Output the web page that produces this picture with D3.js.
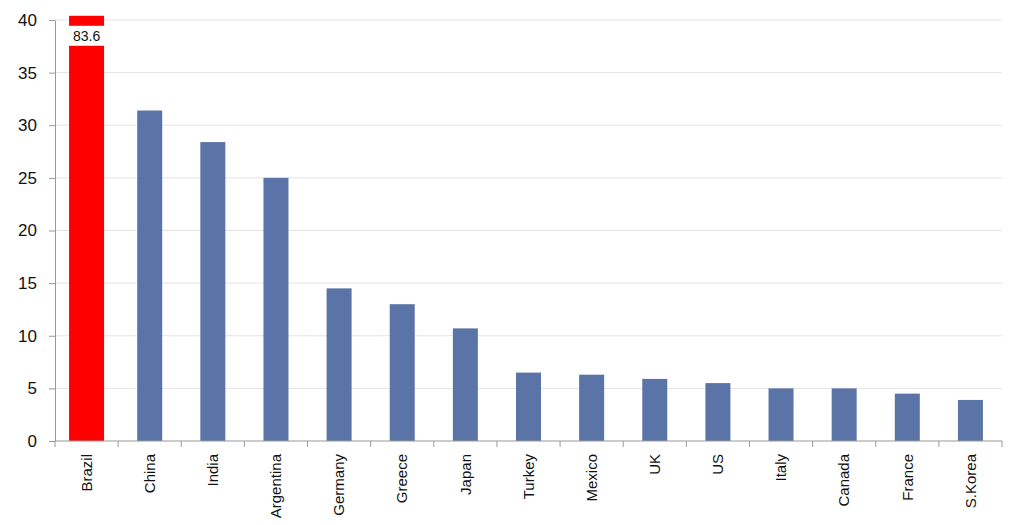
<!DOCTYPE html>
<html>
<head>
<meta charset="utf-8">
<script src="https://cdn.jsdelivr.net/npm/d3@7"></script>
<style>
  body { margin: 0; background: #fff; }
  text { font-family: "Liberation Sans", Arial, sans-serif; fill: #111; }
</style>
</head>
<body>
<div id="chart"></div>
<script>
// data
const countries = ['Brazil', 'China', 'India', 'Argentina', 'Germany', 'Greece', 'Japan', 'Turkey',
    'Mexico', 'UK', 'US', 'Italy', 'Canada', 'France', 'S.Korea'];
const values = [83.6, 31.4, 28.4, 25.0, 14.5, 13.0, 10.7, 6.5, 6.3, 5.9, 5.5, 5.0, 5.0, 4.5, 3.9];
const yTicks = [0, 5, 10, 15, 20, 25, 30, 35, 40];
const highlight = 'Brazil';

function barChart() {
    const W = 1010, H = 525;
    const margin = {top: 20, right: 8, bottom: 84, left: 55};
    const width = W - margin.left - margin.right;
    const height = H - margin.top - margin.bottom;

    const svg = d3.select('#chart')
        .append('svg')
        .attr('width', W)
        .attr('height', H)
        .append('g')
        .attr('transform', `translate(${margin.left}, ${margin.top})`);

    const xScale = d3.scaleBand()
        .domain(countries)
        .range([0, width])
        .paddingInner(0)
        .paddingOuter(0);

    const yScale = d3.scaleLinear()
        .domain([0, 40])
        .range([height, 0]);

    const yMax = 40.4; // bars above the axis top get cut here

    // gridlines
    svg.append('g')
        .selectAll('line')
        .data(yTicks.filter(d => d > 0))
        .join('line')
        .attr('x1', 0)
        .attr('x2', width)
        .attr('y1', d => yScale(d))
        .attr('y2', d => yScale(d))
        .attr('stroke', '#e3e3e3')
        .attr('stroke-width', 1);

    // bars
    const step = xScale.bandwidth();
    const barW = d => d === highlight ? 35 : 25;
    svg.selectAll('.bar')
        .data(countries)
        .join('rect')
        .attr('class', 'bar')
        .attr('x', d => xScale(d) + step / 2 - barW(d) / 2)
        .attr('width', d => barW(d))
        .attr('y', (d, i) => yScale(Math.min(values[i], yMax)))
        .attr('height', (d, i) => yScale(0) - yScale(Math.min(values[i], yMax)))
        .attr('fill', d => d === highlight ? '#ff0000' : '#5b74a8');

    // break in the bars that go off the scale, with the real value
    const broken = countries.filter((d, i) => values[i] > yMax);
    svg.selectAll('.gap')
        .data(broken)
        .join('rect')
        .attr('class', 'gap')
        .attr('x', d => xScale(d) + step / 2 - barW(d) / 2 - 1)
        .attr('width', d => barW(d) + 2)
        .attr('y', yScale(39.45))
        .attr('height', yScale(37.55) - yScale(39.45))
        .attr('fill', '#fff');
    svg.selectAll('.gapLabel')
        .data(broken)
        .join('text')
        .attr('class', 'gapLabel')
        .attr('x', d => xScale(d) + step / 2)
        .attr('y', yScale(38.5))
        .attr('dy', '0.36em')
        .attr('text-anchor', 'middle')
        .style('font-size', '14px')
        .text(d => values[countries.indexOf(d)].toFixed(1));

    // y axis
    const yAxis = svg.append('g')
        .call(d3.axisLeft(yScale).tickValues(yTicks).tickSize(6).tickSizeOuter(0).tickPadding(12));
    yAxis.selectAll('text').style('font-size', '17px');
    yAxis.selectAll('line, path').attr('stroke', '#999');

    // x axis: ticks sit between categories
    const xAxis = svg.append('g')
        .attr('transform', `translate(0, ${height})`);
    xAxis.append('line')
        .attr('x1', 0).attr('x2', width)
        .attr('stroke', '#999');
    xAxis.selectAll('.xtick')
        .data(countries.concat(['end']))
        .join('line')
        .attr('class', 'xtick')
        .attr('x1', (d, i) => i * step)
        .attr('x2', (d, i) => i * step)
        .attr('y1', 0)
        .attr('y2', 6)
        .attr('stroke', '#999');
    xAxis.selectAll('.xlabel')
        .data(countries)
        .join('text')
        .attr('class', 'xlabel')
        .attr('transform', d => `translate(${xScale(d) + step / 2}, 13) rotate(-90)`)
        .attr('dy', '0.35em')
        .attr('text-anchor', 'end')
        .style('font-size', '15px')
        .text(d => d);
}

function main() {
    barChart();
}

main();
</script>
</body>
</html>
